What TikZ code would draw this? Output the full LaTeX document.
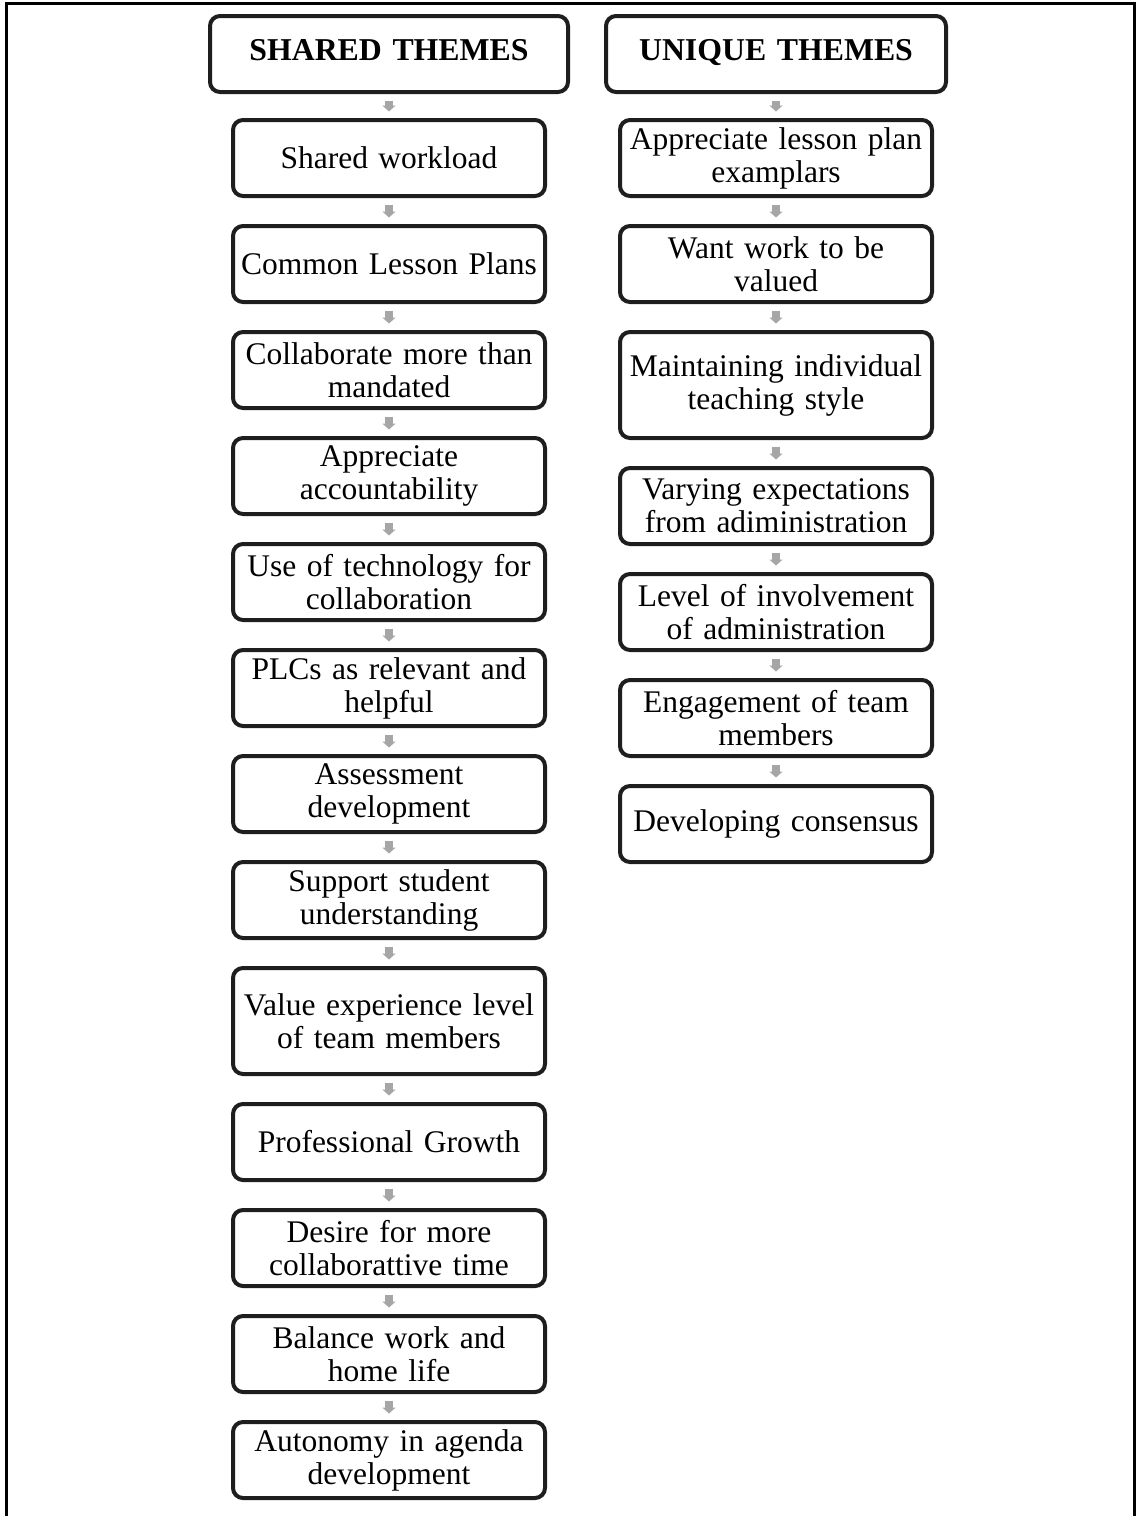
\documentclass[tikz,border=0pt]{standalone}
\usepackage{fontspec}
\setmainfont{Liberation Serif}
\usetikzlibrary{arrows.meta}
\definecolor{boxline}{HTML}{1E1E1E}
\definecolor{flowgray}{HTML}{A6A6A6}
\begin{document}
\begin{tikzpicture}[x=0.5pt,y=-0.5pt,
  theme/.style={draw=boxline, line width=2pt, rounded corners=5pt, fill=white,
    align=center, minimum width=156pt, minimum height=38pt, inner sep=0pt,
    text width=153pt, font=\fontsize{15.75}{16.5}\selectfont},
  tallbox/.style={minimum height=53pt},
  header/.style={theme, text width=170pt, font=\fontsize{15.9}{16.5}\selectfont\bfseries},
  flow/.style={draw=flowgray, line width=4pt, -{Triangle[width=6.5pt,length=3pt]},
    shorten <=3.25pt, shorten >=3.25pt}
]
\useasboundingbox (0,0) rectangle (1136,1516);

% page frame
\draw[line width=1.5pt] (6,1516) -- (6,3.5) -- (1134.5,3.5) -- (1134.5,1516);

% headers
\node[header, minimum width=179pt] (hs) at (389,54) {\strut SHARED THEMES\strut};
\node[header, minimum width=164pt] (hu) at (776,54) {\strut UNIQUE THEMES\strut};

% shared themes
\node[theme] (s1)  at (389,158)  {Shared workload};
\node[theme] (s2)  at (389,264)  {Common Lesson Plans};
\node[theme] (s3)  at (389,370)  {Collaborate more than\\mandated};
\node[theme] (s4)  at (389,476)  {Appreciate\\accountability};
\node[theme] (s5)  at (389,582)  {Use of technology for\\collaboration};
\node[theme] (s6)  at (389,688)  {PLCs as relevant and\\helpful};
\node[theme] (s7)  at (389,794)  {Assessment\\development};
\node[theme] (s8)  at (389,900)  {Support student\\understanding};
\node[theme, tallbox] (s9) at (389,1021) {Value experience level\\of team members};
\node[theme] (s10) at (389,1142) {Professional Growth};
\node[theme] (s11) at (389,1248) {Desire for more\\collaborattive time};
\node[theme] (s12) at (389,1354) {Balance work and\\home life};
\node[theme] (s13) at (389,1460) {Autonomy in agenda\\development};

% unique themes
\node[theme] (u1) at (776,158) {Appreciate lesson plan\\examplars};
\node[theme] (u2) at (776,264) {Want work to be\\valued};
\node[theme, tallbox] (u3) at (776,385) {Maintaining individual\\teaching style};
\node[theme] (u4) at (776,506) {Varying expectations\\from adiministration};
\node[theme] (u5) at (776,612) {Level of involvement\\of administration};
\node[theme] (u6) at (776,718) {Engagement of team\\members};
\node[theme] (u7) at (776,824) {Developing consensus};

% flow arrows
\draw[flow] (hs) -- (s1);
\foreach \a/\b in {s1/s2,s2/s3,s3/s4,s4/s5,s5/s6,s6/s7,s7/s8,s8/s9,s9/s10,s10/s11,s11/s12,s12/s13}
  \draw[flow] (\a) -- (\b);
\draw[flow] (hu) -- (u1);
\foreach \a/\b in {u1/u2,u2/u3,u3/u4,u4/u5,u5/u6,u6/u7}
  \draw[flow] (\a) -- (\b);
\end{tikzpicture}
\end{document}
